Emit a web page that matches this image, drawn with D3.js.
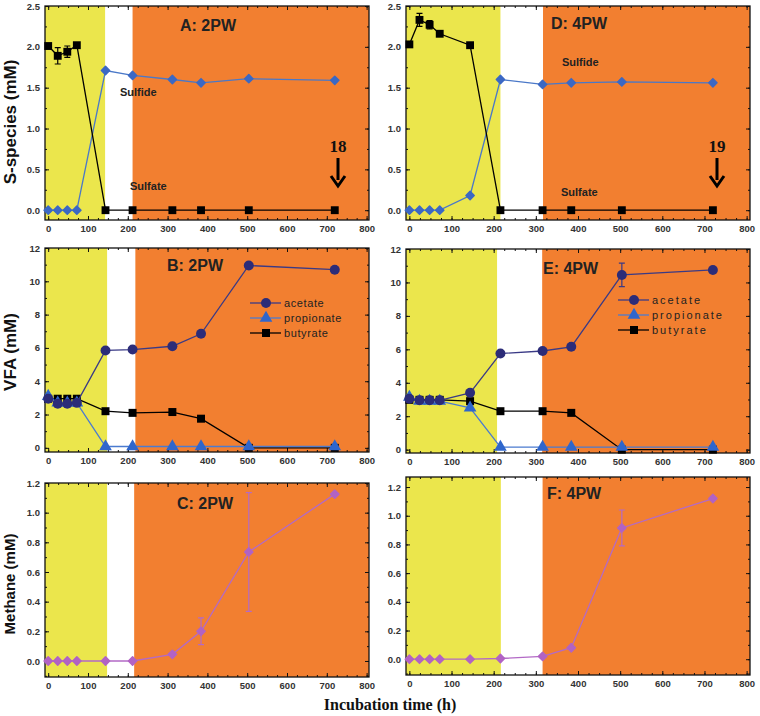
<!DOCTYPE html>
<html>
<head>
<meta charset="utf-8">
<title>S-species, VFA and methane over incubation time</title>
<script src="https://cdn.jsdelivr.net/npm/d3@7"></script>
<style>
  body { margin: 0; background: #fff; }
  .tick text { font-family: Arial, "Liberation Sans", sans-serif; font-weight: bold; font-size: 9.5px; fill: #333; }
  .ptitle { font-family: Arial, "Liberation Sans", sans-serif; font-weight: bold; font-size: 16px; fill: #222; }
  .ylab { font-family: Arial, "Liberation Sans", sans-serif; font-weight: bold; fill: #111; }
  .note { font-family: Arial, "Liberation Sans", sans-serif; font-weight: bold; font-size: 11px; fill: #222; }
  .leg { font-family: Arial, "Liberation Sans", sans-serif; font-size: 11px; fill: #222; }
</style>
</head>
<body>
<svg id="chart" width="760" height="716"></svg>
<script>
// sampling times (h)
var t2PW = [0, 24, 48, 72, 144, 212, 312, 384, 504, 720];
var t4PW = [0, 24, 48, 72, 144, 216, 316, 384, 504, 720];

// A: 2PW  S-species (mM)
var sulfateA    = [2.01, 1.89, 1.94, 2.02, 0, 0, 0, 0, 0, 0];
var sulfateErrA = [0, 0.10, 0.07, 0, 0, 0, 0, 0, 0, 0];
var sulfideA    = [0, 0, 0, 0, 1.71, 1.65, 1.60, 1.56, 1.61, 1.59];

// D: 4PW
var sulfateD    = [2.03, 2.33, 2.27, 2.16, 2.02, 0, 0, 0, 0, 0];
var sulfateErrD = [0, 0.08, 0.05, 0, 0, 0, 0, 0, 0, 0];
var sulfideD    = [0, 0, 0, 0, 0.18, 1.60, 1.54, 1.56, 1.57, 1.56];

// B: 2PW  VFA (mM)
var acetateB    = [2.95, 2.65, 2.65, 2.70, 5.85, 5.90, 6.10, 6.85, 10.95, 10.70];
var propionateB = [3.10, 2.70, 2.70, 2.70, 0.08, 0.08, 0.08, 0.08, 0.08, 0.08];
var butyrateB   = [2.95, 2.95, 2.95, 2.95, 2.20, 2.10, 2.15, 1.75, 0, 0];

// E: 4PW
var acetateE    = [3.05, 2.95, 2.95, 2.95, 3.40, 5.75, 5.90, 6.15, 10.45, 10.75];
var acetateErrE = [0, 0, 0, 0, 0, 0, 0, 0, 0.70, 0];
var propionateE = [3.15, 2.90, 2.90, 2.90, 2.50, 0.15, 0.15, 0.15, 0.15, 0.15];
var butyrateE   = [2.98, 2.98, 2.98, 2.98, 2.90, 2.30, 2.30, 2.20, 0, 0];

// C / F: methane (mM)
var methaneC    = [0, 0, 0, 0, 0, 0, 0.045, 0.20, 0.735, 1.125];
var methaneErrC = [0, 0, 0, 0, 0, 0, 0, 0.09, 0.40, 0];
var methaneF    = [0, 0, 0, 0, 0, 0.005, 0.02, 0.08, 0.915, 1.12];
var methaneErrF = [0, 0, 0, 0, 0, 0, 0, 0, 0.125, 0];

// phase limits (end of yellow, start of orange), in hours
var phaseA = [143, 212], phaseB = [148, 219], phaseC = [148, 216];
var phaseD = [216, 317], phaseE = [208, 315], phaseF = [217, 316];

var YELLOW = "#ebe64c", ORANGE = "#f27f30";
var svg = d3.select("#chart");

function panel(c) {
  var g = svg.append("g");
  var x = d3.scaleLinear().domain(c.xDom).range([c.left, c.right]);
  var y = d3.scaleLinear().domain(c.yDom).range([c.bottom, c.top]);
  var h = c.bottom - c.top;

  // shaded phases
  g.append("rect").attr("x", c.left).attr("y", c.top)
    .attr("width", x(c.phase[0]) - c.left).attr("height", h).attr("fill", YELLOW);
  g.append("rect").attr("x", x(c.phase[1])).attr("y", c.top)
    .attr("width", c.right - x(c.phase[1])).attr("height", h).attr("fill", ORANGE);

  // ticks, inside on all four sides
  var xMaj = d3.range(0, 801, 100), xMin = d3.range(0, 801, 25);
  var yMaj = c.yTicks, yMin = c.yMinor;
  function ax(a, pos, vals, size, fmt) {
    var axg = g.append("g").attr("transform", pos)
      .call(a.tickValues(vals).tickSizeInner(-size).tickSizeOuter(0).tickPadding(5).tickFormat(fmt));
    axg.select(".domain").remove();
    axg.selectAll("line").attr("stroke", "#111").attr("stroke-width", 1);
    return axg;
  }
  ax(d3.axisBottom(x), "translate(0," + c.bottom + ")", xMin, 2, "");
  ax(d3.axisTop(x), "translate(0," + c.top + ")", xMin, 2, "");
  ax(d3.axisLeft(y), "translate(" + c.left + ",0)", yMin, 2, "");
  ax(d3.axisRight(y), "translate(" + c.right + ",0)", yMin, 2, "");
  ax(d3.axisBottom(x), "translate(0," + c.bottom + ")", xMaj, 4, d3.format("d"));
  ax(d3.axisTop(x), "translate(0," + c.top + ")", xMaj, 4, "");
  ax(d3.axisLeft(y), "translate(" + c.left + ",0)", yMaj, 4, c.yFmt);
  ax(d3.axisRight(y), "translate(" + c.right + ",0)", yMaj, 4, "");

  g.append("rect").attr("x", c.left).attr("y", c.top)
    .attr("width", c.right - c.left).attr("height", h)
    .attr("fill", "none").attr("stroke", "#111").attr("stroke-width", 1.3);

  // series
  c.series.forEach(function (s) {
    var pts = s.y.map(function (v, i) { return { t: s.x[i], v: v, e: s.err ? s.err[i] : 0 }; });
    g.append("path").datum(pts)
      .attr("fill", "none").attr("stroke", s.line).attr("stroke-width", 1.3)
      .attr("d", d3.line().x(function (d) { return x(d.t); }).y(function (d) { return y(d.v); }));
    pts.filter(function (d) { return d.e > 0; }).forEach(function (d) {
      var xx = x(d.t);
      g.append("path").attr("fill", "none").attr("stroke", s.line).attr("stroke-width", 1.2)
        .attr("d", "M" + (xx - 3) + "," + y(d.v + d.e) + "H" + (xx + 3) +
                   "M" + xx + "," + y(d.v + d.e) + "V" + y(d.v - d.e) +
                   "M" + (xx - 3) + "," + y(d.v - d.e) + "H" + (xx + 3));
    });
    g.selectAll(null).data(pts).enter().append("path")
      .attr("transform", function (d) {
        return "translate(" + x(d.t) + "," + y(d.v) + ")" + (s.rot ? " rotate(" + s.rot + ")" : "");
      })
      .attr("d", d3.symbol().type(s.symbol).size(s.size))
      .attr("fill", s.fill)
      .attr("stroke", s.fill).attr("stroke-width", s.rot ? 1.5 : 0).attr("stroke-linejoin", "round");
  });

  g.append("text").attr("class", "ptitle").attr("x", c.title[1]).attr("y", c.title[2]).text(c.title[0]);
  return { g: g, x: x, y: y };
}

var L = [45, 369], R = [406, 750];
var xDomL = [-8, 806], xDomR = [-8, 808];
var f1 = d3.format(".1f");

function sSeries(t, sulfate, err, sulfide) {
  return [
    { x: t, y: sulfide, symbol: d3.symbolSquare, rot: 45, size: 34, fill: "#3b68c4", line: "#4a78c8" },
    { x: t, y: sulfate, err: err, symbol: d3.symbolSquare, size: 62, fill: "#000", line: "#000" }
  ];
}
function vSeries(t, ac, acErr, pr, bu) {
  return [
    { x: t, y: bu, symbol: d3.symbolSquare, size: 64, fill: "#000", line: "#000" },
    { x: t, y: pr, symbol: d3.symbolTriangle, size: 70, fill: "#2f66cc", line: "#4b7bd0" },
    { x: t, y: ac, err: acErr, symbol: d3.symbolCircle, size: 78, fill: "#2c2c78", line: "#3a3a86" }
  ];
}
function mSeries(t, m, err) {
  return [{ x: t, y: m, err: err, symbol: d3.symbolSquare, rot: 45, size: 34, fill: "#b163c4", line: "#b36ac6" }];
}

var sTicks = d3.range(0, 2.51, 0.5), sMinor = d3.range(0, 2.51, 0.25);
var vTicks = d3.range(0, 13, 2), vMinor = d3.range(0, 13, 1);
var mTicks = d3.range(0, 1.21, 0.2), mMinor = d3.range(-0.1, 1.25, 0.1);

var pA = panel({ left: L[0], right: L[1], top: 6, bottom: 220, xDom: xDomL, yDom: [-0.12, 2.5],
  yTicks: sTicks, yMinor: sMinor, yFmt: f1, phase: phaseA,
  series: sSeries(t2PW, sulfateA, sulfateErrA, sulfideA), title: ["A: 2PW", 180, 31] });
var pD = panel({ left: R[0], right: R[1], top: 6, bottom: 220, xDom: xDomR, yDom: [-0.12, 2.5],
  yTicks: sTicks, yMinor: sMinor, yFmt: f1, phase: phaseD,
  series: sSeries(t4PW, sulfateD, sulfateErrD, sulfideD), title: ["D: 4PW", 551, 29] });
var pB = panel({ left: L[0], right: L[1], top: 248, bottom: 452, xDom: xDomL, yDom: [-0.25, 12],
  yTicks: vTicks, yMinor: vMinor, yFmt: d3.format("d"), phase: phaseB,
  series: vSeries(t2PW, acetateB, null, propionateB, butyrateB), title: ["B: 2PW", 167, 271] });
var pE = panel({ left: R[0], right: R[1], top: 249, bottom: 453, xDom: xDomR, yDom: [-0.2, 12],
  yTicks: vTicks, yMinor: vMinor, yFmt: d3.format("d"), phase: phaseE,
  series: vSeries(t4PW, acetateE, acetateErrE, propionateE, butyrateE), title: ["E: 4PW", 543, 274] });
var pC = panel({ left: L[0], right: L[1], top: 483, bottom: 677, xDom: xDomL, yDom: [-0.108, 1.2],
  yTicks: mTicks, yMinor: mMinor, yFmt: f1, phase: phaseC,
  series: mSeries(t2PW, methaneC, methaneErrC), title: ["C: 2PW", 177, 509] });
var pF = panel({ left: R[0], right: R[1], top: 477, bottom: 675, xDom: xDomR, yDom: [-0.11, 1.27],
  yTicks: mTicks, yMinor: mMinor, yFmt: f1, phase: phaseF,
  series: mSeries(t4PW, methaneF, methaneErrF), title: ["F: 4PW", 547, 499] });

// Sulfide / Sulfate notes and sample arrows
function notes(p, sx, sy, fx, fy, num, ax) {
  p.g.append("text").attr("class", "note").attr("x", sx).attr("y", sy).text("Sulfide");
  p.g.append("text").attr("class", "note").attr("x", fx).attr("y", fy).text("Sulfate");
  p.g.append("text").attr("x", ax).attr("y", 152).attr("text-anchor", "middle")
    .style("font-family", "'Liberation Serif', 'DejaVu Serif', serif").style("font-weight", "bold")
    .style("font-size", "17px").attr("fill", "#111").text(num);
  p.g.append("line").attr("x1", ax).attr("x2", ax).attr("y1", 158).attr("y2", 180)
    .attr("stroke", "#000").attr("stroke-width", 3);
  p.g.append("path").attr("d", "M" + (ax - 7) + ",176L" + ax + ",186L" + (ax + 7) + ",176")
    .attr("fill", "none").attr("stroke", "#000").attr("stroke-width", 3);
}
notes(pA, 120, 96, 130, 190, "18", 338);
notes(pD, 562, 66, 561, 196, "19", 717);

// legends
function legend(p, lx, ly, spacing) {
  var items = [
    { name: "acetate", symbol: d3.symbolCircle, size: 78, fill: "#2c2c78", line: "#3a3a86" },
    { name: "propionate", symbol: d3.symbolTriangle, size: 70, fill: "#2f66cc", line: "#4b7bd0" },
    { name: "butyrate", symbol: d3.symbolSquare, size: 64, fill: "#000", line: "#000" }
  ];
  items.forEach(function (it, i) {
    var yy = ly + i * 15;
    p.g.append("line").attr("x1", lx).attr("x2", lx + 31).attr("y1", yy).attr("y2", yy)
      .attr("stroke", it.line).attr("stroke-width", 1.3);
    p.g.append("path").attr("transform", "translate(" + (lx + 16) + "," + yy + ")")
      .attr("d", d3.symbol().type(it.symbol).size(it.size)).attr("fill", it.fill);
    p.g.append("text").attr("class", "leg").attr("x", lx + 34).attr("y", yy + 4)
      .style("letter-spacing", spacing).text(it.name);
  });
}
legend(pB, 250, 303, "0.6px");
legend(pE, 618, 300, "2px");

// axis titles
function ylab(txt, x, y, size) {
  svg.append("text").attr("class", "ylab").attr("transform", "translate(" + x + "," + y + ") rotate(-90)")
    .attr("text-anchor", "middle").style("font-size", size + "px").text(txt);
}
ylab("S-species (mM)", 16, 122, 17);
ylab("VFA (mM)", 16, 352, 17);
ylab("Methane (mM)", 15, 584, 15);

svg.append("text").attr("x", 390).attr("y", 710).attr("text-anchor", "middle")
  .style("font-family", "'Liberation Serif', 'DejaVu Serif', serif").style("font-weight", "bold")
  .style("font-size", "16px").attr("fill", "#111").text("Incubation time (h)");
</script>
</body>
</html>
